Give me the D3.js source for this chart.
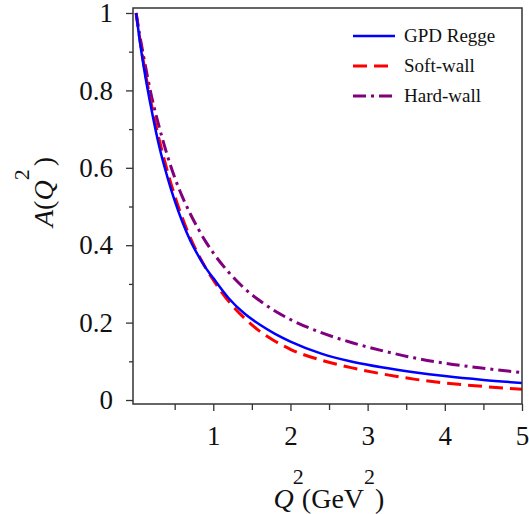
<!DOCTYPE html>
<html>
<head>
<meta charset="utf-8">
<script src="https://cdn.jsdelivr.net/npm/d3@7"></script>
<style>
  body { margin: 0; background: #fff; }
  text { font-family: "Liberation Serif", "Times New Roman", serif; fill: #111; }
</style>
</head>
<body>
<div id="chart"></div>
<script>
// Data
var q2 = [0, 0.05, 0.1, 0.2, 0.3, 0.4, 0.5, 0.6, 0.7, 0.8, 0.9, 1.0,
          1.2, 1.4, 1.6, 1.8, 2.0, 2.4, 2.8, 3.2, 3.6, 4.0, 4.5, 5.0];

var gpdRegge = [1.0, 0.925, 0.86, 0.75, 0.655, 0.58, 0.515, 0.46, 0.413, 0.375, 0.342, 0.315,
                0.263, 0.224, 0.195, 0.171, 0.151, 0.12, 0.099, 0.084, 0.072, 0.062, 0.052, 0.044];
var softWall = [1.0, 0.93, 0.868, 0.762, 0.672, 0.595, 0.528, 0.47, 0.42, 0.378, 0.342, 0.31,
                0.255, 0.212, 0.178, 0.152, 0.131, 0.103, 0.083, 0.067, 0.054, 0.044, 0.035, 0.028];
var hardWall = [1.0, 0.94, 0.885, 0.785, 0.705, 0.635, 0.575, 0.525, 0.482, 0.444, 0.41, 0.38,
                0.33, 0.289, 0.257, 0.23, 0.208, 0.174, 0.148, 0.127, 0.109, 0.095, 0.082, 0.071];

var seriesNames = ["GPD Regge", "Soft-wall", "Hard-wall"];
var seriesColors = ["#0000ff", "#ff0000", "#800080"];
var seriesDash = [null, "14,7", "13,5,3,5"];
var seriesWidth = [2.5, 3, 3];

var xMajor = [1, 2, 3, 4, 5];
var xMinor = [0.5, 1.5, 2.5, 3.5, 4.5];
var yMajor = [0, 0.2, 0.4, 0.6, 0.8, 1];
var yMajorLabels = ["0", "0.2", "0.4", "0.6", "0.8", "1"];
var yMinor = [0.1, 0.3, 0.5, 0.7, 0.9];

/*
 * SETUP
 * =============================== */

var width = 529, height = 514;
var plotLeft = 133, plotRight = 522, plotTop = 8, plotBottom = 404;

var svg = d3.select("#chart").append("svg")
  .attr("width", width)
  .attr("height", height);

var x = d3.scaleLinear().domain([-0.04, 5]).range([plotLeft, plotRight]);
var y = d3.scaleLinear().domain([-0.0103, 1.0129]).range([plotBottom, plotTop]);

/*
 * CURVES
 * =============================== */

var series = [gpdRegge, softWall, hardWall];

var line = d3.line()
  .x(function(d) { return x(d[0]); })
  .y(function(d) { return y(d[1]); })
  .curve(d3.curveMonotoneX);

svg.append("defs").append("clipPath").attr("id", "clip")
  .append("rect")
  .attr("x", plotLeft).attr("y", plotTop)
  .attr("width", plotRight - plotLeft).attr("height", plotBottom - plotTop);

var curves = svg.append("g").attr("clip-path", "url(#clip)");

// draw in reverse so blue sits on top
for (var i = series.length - 1; i >= 0; i--) {
  var pts = q2.map(function(q, j) { return [q, series[i][j]]; });
  curves.append("path")
    .datum(pts)
    .attr("d", line)
    .attr("fill", "none")
    .attr("stroke", seriesColors[i])
    .attr("stroke-width", seriesWidth[i])
    .attr("stroke-dasharray", seriesDash[i]);
}

/*
 * AXES
 * =============================== */

svg.append("g").attr("transform", "translate(0," + plotBottom + ")")
  .call(d3.axisBottom(x).tickValues(xMajor).tickSize(7).tickPadding(15)
    .tickFormat(d3.format("d")));
svg.append("g").attr("transform", "translate(0," + plotBottom + ")")
  .call(d3.axisBottom(x).tickValues(xMinor).tickSize(6).tickFormat(""));

svg.append("g").attr("transform", "translate(" + plotLeft + ",0)")
  .call(d3.axisLeft(y).tickValues(yMajor).tickSize(7).tickPadding(13)
    .tickFormat(function(d, i) { return yMajorLabels[i]; }));
svg.append("g").attr("transform", "translate(" + plotLeft + ",0)")
  .call(d3.axisLeft(y).tickValues(yMinor).tickSize(4).tickFormat(""));

svg.selectAll(".domain").remove();
svg.selectAll(".tick line").attr("stroke", "#333").attr("stroke-width", 1.3);
svg.selectAll(".tick text")
  .style("font-family", "'Liberation Serif', serif")
  .style("font-size", "27px")
  .attr("fill", "#111");

// box around the plot
svg.append("rect")
  .attr("x", plotLeft).attr("y", plotTop)
  .attr("width", plotRight - plotLeft).attr("height", plotBottom - plotTop)
  .attr("fill", "none")
  .attr("stroke", "#333")
  .attr("stroke-width", 1.5);

/*
 * TITLES
 * =============================== */

var xt = svg.append("text")
  .attr("x", 329).attr("y", 508)
  .attr("text-anchor", "middle")
  .style("font-size", "28px");
xt.append("tspan").style("font-style", "italic").text("Q");
xt.append("tspan").attr("dy", -24).attr("dx", -1).style("font-size", "22px").text("2");
xt.append("tspan").attr("dy", 24).attr("dx", -2).text("(GeV");
xt.append("tspan").attr("dy", -24).style("font-size", "22px").text("2");
xt.append("tspan").attr("dy", 24).text(")");

var yt = svg.append("text")
  .attr("transform", "translate(53,192) rotate(-90)")
  .attr("text-anchor", "middle")
  .style("font-size", "28px");
yt.append("tspan").style("font-style", "italic").text("A");
yt.append("tspan").text("(");
yt.append("tspan").style("font-style", "italic").text("Q");
yt.append("tspan").attr("dy", -24).style("font-size", "22px").text("2");
yt.append("tspan").attr("dy", 24).attr("dx", 3).text(")");

/*
 * LEGEND
 * =============================== */

var legendY = [36, 66, 96];
var legend = svg.append("g");
seriesNames.forEach(function(name, i) {
  legend.append("line")
    .attr("x1", 353).attr("x2", 395)
    .attr("y1", legendY[i]).attr("y2", legendY[i])
    .attr("stroke", seriesColors[i])
    .attr("stroke-width", seriesWidth[i])
    .attr("stroke-dasharray", seriesDash[i]);
  legend.append("text")
    .attr("x", 404).attr("y", legendY[i] + 6)
    .style("font-size", "19px")
    .text(name);
});
</script>
</body>
</html>
